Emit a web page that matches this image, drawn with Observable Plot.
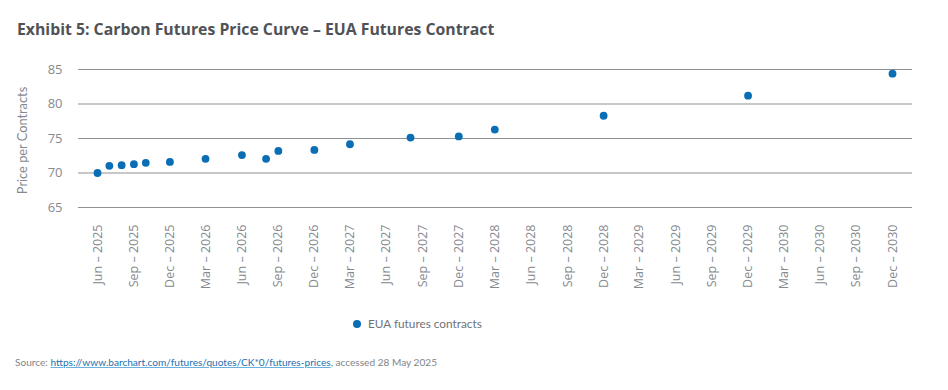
<!DOCTYPE html>
<html>
<head>
<meta charset="utf-8">
<script src="https://cdn.jsdelivr.net/npm/d3@7"></script>
<script src="https://cdn.jsdelivr.net/npm/@observablehq/plot@0.6"></script>
<style>
  html, body { margin: 0; padding: 0; background: #fff; }
  body { width: 948px; height: 390px; font-family: "Open Sans", sans-serif; position: relative; overflow: hidden; }
  #title { position: absolute; left: 17px; top: 18px; font-family: "Open Sans", sans-serif; font-weight: 700; font-size: 15.8px; color: #505257; white-space: nowrap; }
  #chart { position: absolute; left: 0; top: 45px; }
  #legend { position: absolute; left: 353px; top: 316px; font-family: Lato, sans-serif; font-size: 11.8px; color: #6f7377; display: flex; align-items: center; white-space: nowrap; }
  #legend .sw { width: 8px; height: 8px; border-radius: 50%; background: #0a6eb4; margin-right: 7px; }
  #source { position: absolute; left: 15px; top: 356px; font-family: Lato, sans-serif; font-size: 10.1px; color: #808488; white-space: nowrap; }
  #source a { color: #1b6fae; text-decoration: underline; text-decoration-color: #6cb0dc; }
</style>
</head>
<body>
<div id="title">Exhibit 5: Carbon Futures Price Curve – EUA Futures Contract</div>
<div id="chart"></div>
<div id="legend"><span class="sw"></span><span>EUA futures contracts</span></div>
<div id="source">Source: <a>https://www.barchart.com/futures/quotes/CK*0/futures-prices</a>, accessed 28 May 2025</div>
<script>
// Contract months (year-month) and prices
const contracts = ["2025-06","2025-07","2025-08","2025-09","2025-10","2025-12","2026-03","2026-06","2026-08","2026-09","2026-12","2027-03","2027-08","2027-12","2028-03","2028-12","2029-12","2030-12"];
const prices = [70.0, 71.04, 71.13, 71.28, 71.47, 71.6, 72.06, 72.6, 72.06, 73.2, 73.35, 74.17, 75.13, 75.3, 76.3, 78.3, 81.2, 84.4];

// Axis tick labels
const xTickMonths = ["2025-06","2025-09","2025-12","2026-03","2026-06","2026-09","2026-12","2027-03","2027-06","2027-09","2027-12","2028-03","2028-06","2028-09","2028-12","2029-03","2029-06","2029-09","2029-12","2030-03","2030-06","2030-09","2030-12"];
const yTicks = [65, 70, 75, 80, 85];
const seriesName = "EUA futures contracts";
const yLabel = "Price per Contracts";

const parse = d3.utcParse("%Y-%m");
const data = contracts.map((c, i) => ({date: parse(c), price: prices[i], series: seriesName}));
const xTicks = xTickMonths.map(parse);
const fmt = d3.utcFormat("%b – %Y");

const chart = Plot.plot({
  width: 948,
  height: 260,
  marginLeft: 78,
  marginRight: 36,
  marginTop: 24,
  marginBottom: 98,
  style: { fontFamily: "Open Sans, sans-serif", background: "#fff" },
  x: { type: "utc", domain: [xTicks[0], xTicks[xTicks.length - 1]], insetLeft: 19, insetRight: 20 },
  y: { domain: [65, 85] },
  marks: [
    Plot.ruleY(yTicks, { stroke: "#8e9196", strokeWidth: 1.2 }),
    Plot.axisY({ ticks: yTicks, tickSize: 0, tickPadding: 16, label: null, fontSize: 13, color: "#858a90" }),
    Plot.axisX({ ticks: xTicks, tickFormat: fmt, tickRotate: -90, tickSize: 0, tickPadding: 17, label: null, fontSize: 12.5, color: "#858a90" }),
    Plot.dot(data, { x: "date", y: "price", r: 3.9, fill: "#0a6eb4", stroke: "none" }),
    Plot.text([yLabel], { frameAnchor: "left", textAnchor: "middle", dx: -56, dy: 2, rotate: -90, fontSize: 12.8, fontFamily: "Lato, sans-serif", fill: "#858a90" })
  ]
});
document.getElementById("chart").appendChild(chart);
</script>
</body>
</html>
